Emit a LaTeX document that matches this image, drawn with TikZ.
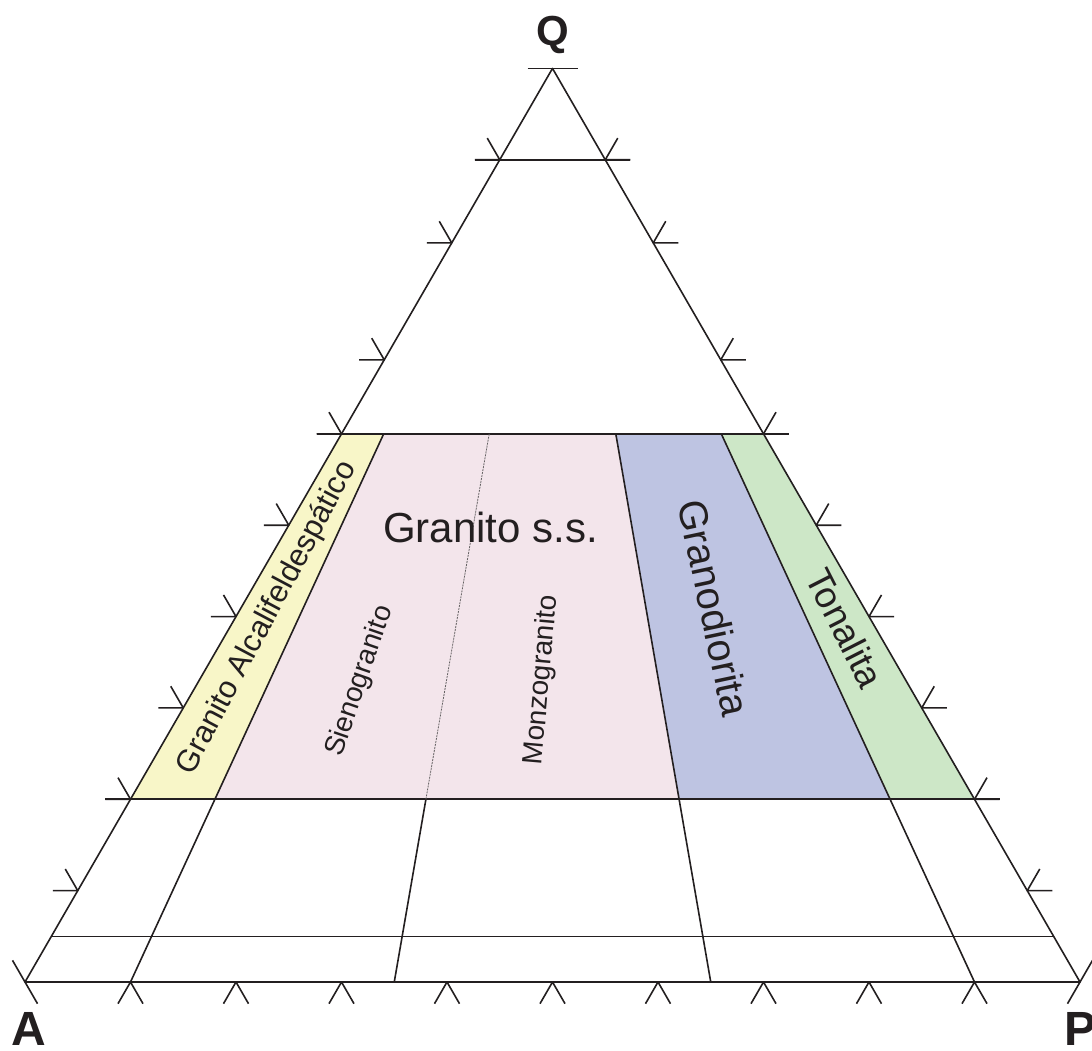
\documentclass[tikz,border=0pt]{standalone}
\usepackage{fontspec}
\setmainfont{Liberation Sans}
\usetikzlibrary{calc}
\definecolor{linec}{HTML}{231F20}
\definecolor{yel}{HTML}{F8F6C8}
\definecolor{pnk}{HTML}{F3E5EB}
\definecolor{blu}{HTML}{BEC4E2}
\definecolor{grn}{HTML}{CDE7C7}
\begin{document}
\begin{tikzpicture}[x=1pt,y=-1pt,
  ln/.style={draw=linec, line width=1.6pt, line join=round},
  dotl/.style={draw=linec!70, line width=0.8pt, dash pattern=on 2pt off 1pt},
  lbl/.style={inner sep=0pt, text=linec}]
\useasboundingbox[fill=white] (0,0) rectangle (1092,1050);
\coordinate (A) at (25,982);
\coordinate (P) at (1080,982);
\coordinate (Q) at (552.5,68.4);
\foreach \r/\f in {10/0.10,35/0.35,65/0.65,90/0.90} {
  \coordinate (b\r) at ($(A)!\f!(P)$);
  \coordinate (u\r) at ($(b\r)!0.2!(Q)$);
  \coordinate (v\r) at ($(b\r)!0.6!(Q)$);
}
\coordinate (l20) at ($(A)!0.2!(Q)$);
\coordinate (l60) at ($(A)!0.6!(Q)$);
\coordinate (r20) at ($(P)!0.2!(Q)$);
\coordinate (r60) at ($(P)!0.6!(Q)$);
\coordinate (l05) at ($(A)!0.05!(Q)$);
\coordinate (r05) at ($(P)!0.05!(Q)$);
% fields
\fill[yel] (l20) -- (u10) -- (v10) -- (l60) -- cycle;
\fill[pnk] (u10) -- (u65) -- (v65) -- (v10) -- cycle;
\fill[blu] (u65) -- (u90) -- (v90) -- (v65) -- cycle;
\fill[grn] (u90) -- (r20) -- (r60) -- (v90) -- cycle;
% outline and boundaries
\draw[ln] (A) -- (P) -- (Q) -- cycle;
\draw[ln] (l05) -- (r05);
\foreach \q in {0.2,0.6,0.9} {
  \draw[ln] ($(A)!\q!(Q)+(-25,0)$) -- ($(P)!\q!(Q)+(25,0)$);
}
\draw[ln] (b10) -- (v10);
\draw[ln] (b65) -- (v65);
\draw[ln] (b90) -- (v90);
\draw[ln] (b35) -- (u35);
\draw[dotl] (u35) -- (v35);
% ticks on the sides (as placed in the reference)
\foreach \f in {0.1,0.2,0.3,0.4,0.5,0.6,0.681,0.809,0.9} {
  \draw[ln] ($(A)!\f!(Q)$) ++(-25,0) -- ++(25,0) -- ++(120:25pt);
  \draw[ln] ($(P)!\f!(Q)$) ++(25,0) -- ++(-25,0) -- ++(60:25pt);
}
% ticks on the base
\foreach \k in {1,...,9} {
  \pgfmathsetmacro\f{\k/10}
  \draw[ln] ($(A)!\f!(P)$) ++(240:25pt) -- ++(60:25pt) -- ++(300:25pt);
}
\draw[ln] ($(A)+(120:25pt)$) -- ($(A)+(300:25pt)$);
\draw[ln] ($(P)+(60:25pt)$) -- ($(P)+(240:25pt)$);
\draw[ln] ($(Q)+(-25,0)$) -- ($(Q)+(25,0)$);
% labels
\node[lbl, font=\bfseries\fontsize{42}{42}\selectfont, anchor=base] (lq) at (553,45) {Q};
\node[lbl, font=\bfseries\fontsize{48}{48}\selectfont, anchor=base] (la) at (29,1045) {A};
\node[lbl, font=\bfseries\fontsize{48}{48}\selectfont, anchor=base] (lp) at (1080,1045) {P};
\node[lbl, font=\fontsize{42}{42}\selectfont, anchor=base] (lgs) at (490.5,542) {Granito s.s.};
\node[lbl, rotate=62, font=\fontsize{31}{31}\selectfont] (lalc) at (267,618) {Granito Alcalifeldespático};
\node[lbl, rotate=71, font=\fontsize{28}{28}\selectfont] (lsie) at (360,681) {Sienogranito};
\node[lbl, rotate=85, font=\fontsize{28}{28}\selectfont] (lmon) at (542,680) {Monzogranito};
\node[lbl, rotate=-78, font=\fontsize{40}{40}\selectfont] (lgd) at (714,608) {Granodiorita};
\node[lbl, rotate=-63, font=\fontsize{37}{37}\selectfont] (lton) at (845,628) {Tonalita};
\end{tikzpicture}
\end{document}
